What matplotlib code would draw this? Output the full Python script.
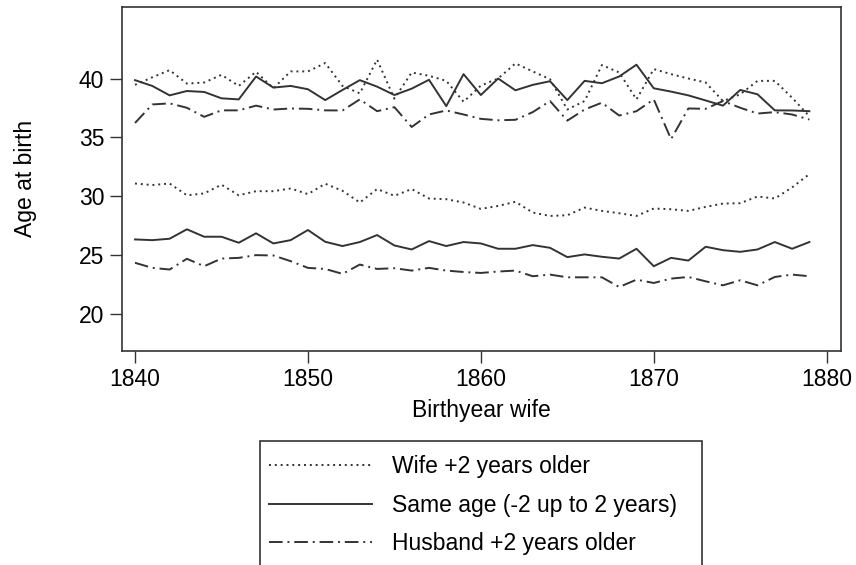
import matplotlib
matplotlib.use("Agg")
import matplotlib.pyplot as plt
from matplotlib.patches import Rectangle

years = list(range(1840, 1880))

wife_last = [39.46, 40.1, 40.71, 39.57, 39.66, 40.31, 39.37, 40.57, 39.17, 40.6,
             40.6, 41.31, 39.37, 38.74, 41.6, 38.29, 40.51, 40.23, 39.8, 38.03,
             39.4, 40.0, 41.28, 40.6, 39.94, 37.37, 38.09, 41.14, 40.51, 38.23,
             40.8, 40.37, 40.0, 39.66, 38.09, 38.66, 39.8, 39.8, 38.37, 36.8]
same_last = [39.86, 39.37, 38.57, 38.94, 38.86, 38.32, 38.23, 40.17, 39.23, 39.37,
             39.09, 38.17, 39.03, 39.86, 39.31, 38.6, 39.14, 39.89, 37.66, 40.37,
             38.6, 40.0, 39.0, 39.46, 39.77, 38.17, 39.8, 39.6, 40.17, 41.17,
             39.17, 38.89, 38.57, 38.14, 37.7, 39.03, 38.66, 37.3, 37.29, 37.23]
husb_last = [36.23, 37.8, 37.89, 37.52, 36.75, 37.3, 37.3, 37.7, 37.37, 37.46,
             37.43, 37.3, 37.29, 38.23, 37.23, 37.57, 35.89, 36.95, 37.29, 36.95,
             36.58, 36.46, 36.5, 37.15, 38.09, 36.43, 37.37, 37.95, 36.86, 37.23,
             38.23, 34.86, 37.46, 37.43, 38.09, 37.52, 37.03, 37.15, 36.95, 36.52]

wife_first = [31.1, 30.97, 31.1, 30.1, 30.26, 31.0, 30.1, 30.45, 30.45, 30.68,
              30.2, 31.08, 30.48, 29.49, 30.63, 30.06, 30.63, 29.83, 29.77, 29.49,
              28.95, 29.2, 29.55, 28.64, 28.35, 28.41, 29.06, 28.78, 28.58, 28.35,
              28.98, 28.92, 28.78, 29.12, 29.4, 29.43, 30.0, 29.83, 30.77, 31.9]
same_first = [26.36, 26.3, 26.42, 27.22, 26.59, 26.59, 26.08, 26.88, 26.02, 26.3,
              27.16, 26.16, 25.8, 26.14, 26.73, 25.85, 25.51, 26.22, 25.8, 26.14,
              26.02, 25.57, 25.57, 25.88, 25.65, 24.86, 25.09, 24.89, 24.74, 25.57,
              24.09, 24.8, 24.57, 25.74, 25.45, 25.31, 25.51, 26.14, 25.57, 26.14]
husb_first = [24.38, 23.95, 23.81, 24.72, 24.09, 24.74, 24.8, 25.03, 25.0, 24.52,
              23.95, 23.86, 23.44, 24.23, 23.86, 23.92, 23.72, 23.95, 23.72, 23.6,
              23.52, 23.64, 23.72, 23.24, 23.38, 23.15, 23.15, 23.15, 22.33, 22.95,
              22.67, 23.04, 23.18, 22.81, 22.47, 22.9, 22.47, 23.18, 23.38, 23.24]

labels = ["Wife +2 years older", "Same age (-2 up to 2 years)", "Husband +2 years older"]
x_ticks = [1840, 1850, 1860, 1870, 1880]
y_ticks = [20, 25, 30, 35, 40]

plt.rcParams['font.family'] = ['Liberation Sans', 'DejaVu Sans']
FS = 16.5
col = '#333333'
lw = 1.4
dotted = (0, (1, 2.0))
dashdot = (0, (7, 2.5, 1, 2.5))

W, H = 856, 565
fig = plt.figure(figsize=(W / 100, H / 100), dpi=100)
ax = fig.add_axes([121.7 / W, 1 - 350.7 / H, (840.7 - 121.7) / W, (350.7 - 7) / H])

l1, = ax.plot(years, wife_last, color=col, lw=lw, linestyle=dotted)
ax.plot(years, wife_first, color=col, lw=lw, linestyle=dotted)
l2, = ax.plot(years, same_last, color=col, lw=lw, linestyle='-')
ax.plot(years, same_first, color=col, lw=lw, linestyle='-')
l3, = ax.plot(years, husb_last, color=col, lw=lw, linestyle=dashdot)
ax.plot(years, husb_first, color=col, lw=lw, linestyle=dashdot)

ax.set_xlim(1839.23, 1880.81)
ax.set_ylim(16.93, 46.06)
ax.set_xticks(x_ticks)
ax.set_yticks(y_ticks)
ax.tick_params(direction='out', length=8.5, width=1.0, colors=col, labelcolor='black',
               labelsize=FS, pad=4)
for s in ax.spines.values():
    s.set_color(col)
    s.set_linewidth(1.2)

ax.set_xlabel("Birthyear wife", fontsize=FS)
ax.set_ylabel("Age at birth", fontsize=FS)
ax.xaxis.set_label_coords(0.5, -0.14)
ax.yaxis.set_label_coords(-0.118, 0.5)

# legend box (frame drawn separately; it runs off the bottom edge as in the reference)
fig.patches.append(Rectangle((260 / W, 1 - 570 / H), (702 - 260) / W, (570 - 441) / H,
                             transform=fig.transFigure, fill=False, edgecolor=col,
                             linewidth=1.2))
leg = fig.legend([l1, l2, l3], labels, loc='upper left',
                 bbox_to_anchor=(269 / W, 1 - 455 / H), borderaxespad=0,
                 fontsize=FS, handlelength=4.5, handletextpad=0.87, borderpad=0,
                 labelspacing=0.68, frameon=False)

fig.savefig("out.png", dpi=100)
